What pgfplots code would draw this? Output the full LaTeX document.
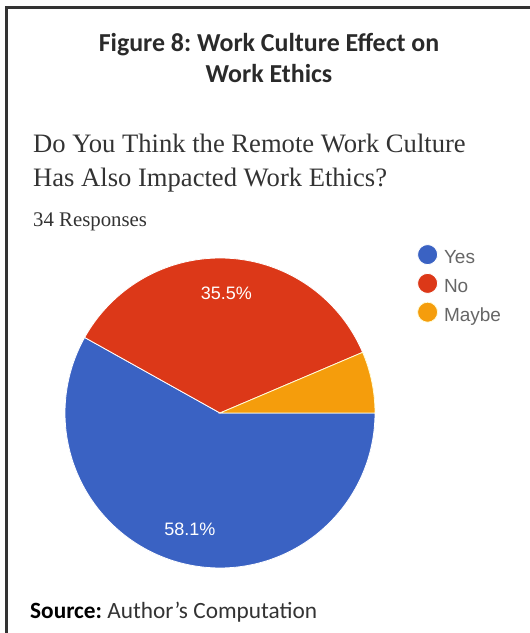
\documentclass[border=0pt]{standalone}
\usepackage{pgfplots}
\pgfplotsset{compat=1.18}
\usepackage{fontspec}
\setmainfont{Liberation Serif}
\newfontfamily\carlito{Carlito}
\newfontfamily\arial{Liberation Sans}
\definecolor{pieblue}{HTML}{3A62C3}
\definecolor{piered}{HTML}{DC3818}
\definecolor{pieorange}{HTML}{F59D0C}
\definecolor{framegray}{HTML}{333333}
\definecolor{titlegray}{HTML}{2A2A2A}
\definecolor{textgray}{HTML}{333333}
\definecolor{legendgray}{HTML}{666666}
% data (percent of 34 responses)
\def\vYes{58.1}
\def\vNo{35.5}
\def\vMaybe{6.4}
\pgfmathsetmacro\aA{-3.6*\vYes}
\pgfmathsetmacro\aB{\aA-3.6*\vNo}
\pgfmathsetmacro\aC{\aB-3.6*\vMaybe}
\pgfmathsetmacro\mA{\aA/2}
\pgfmathsetmacro\mB{(\aA+\aB)/2}
\frenchspacing
\begin{document}
\frenchspacing
\begin{tikzpicture}
\useasboundingbox (0,0) rectangle (530bp,633bp);
\begin{axis}[
  at={(0,0)}, anchor=south west,
  scale only axis, width=530bp, height=633bp,
  xmin=0, xmax=530, ymin=0, ymax=633,
  hide axis, clip=false,
  legend image code/.code={\fill[#1] (10bp,3bp) circle (10bp);},
  legend style={at={(axis cs:417,389)}, anchor=north west,
    draw=none, fill=none, inner sep=0pt, row sep=8bp,
    font=\arial\fontsize{19bp}{19bp}\selectfont, text=legendgray,
    nodes={inner sep=0pt},
    /tikz/every odd column/.append style={column sep=6bp}},
  legend cell align=left,
]
% frame
\draw[framegray, line width=2.5bp] (axis cs:6.5,0) -- (axis cs:6.5,625.7) -- (axis cs:530,625.7);
% pie
\addplot[fill=pieblue, draw=white, line width=0.8bp, domain=\aA:0, samples=150, variable=\t]
  ({220+155*cos(\t)},{220+155*sin(\t)}) -- (axis cs:220,220) -- cycle;
\addlegendentry{Yes}
\addplot[fill=piered, draw=white, line width=0.8bp, domain=\aB:\aA, samples=100, variable=\t]
  ({220+155*cos(\t)},{220+155*sin(\t)}) -- (axis cs:220,220) -- cycle;
\addlegendentry{No}
\addplot[fill=pieorange, draw=white!85!yellow, line width=0.8bp, domain=\aC:\aB, samples=30, variable=\t]
  ({220+155*cos(\t)},{220+155*sin(\t)}) -- (axis cs:220,220) -- cycle;
\addlegendentry{Maybe}
% slice labels
\node[white, font=\arial\fontsize{18bp}{18bp}\selectfont] at (axis cs:{220+120*cos(\mB)},{220+120*sin(\mB)}) {35.5\%};
\node[white, font=\arial\fontsize{18bp}{18bp}\selectfont] at (axis cs:{220+120*cos(\mA)},{220+120*sin(\mA)}) {58.1\%};
% texts
\node[anchor=base, inner sep=0pt, text=titlegray, font=\carlito\bfseries\fontsize{25.9bp}{31bp}\selectfont] at (axis cs:269,581) {Figure 8: Work Culture Effect on};
\node[anchor=base, inner sep=0pt, text=titlegray, font=\carlito\bfseries\fontsize{25.9bp}{31bp}\selectfont] at (axis cs:269,550) {Work Ethics};
\node[anchor=base west, inner sep=0pt, text=textgray, font=\fontsize{26.6bp}{32bp}\selectfont] at (axis cs:33,480) {Do You Think the Remote Work Culture};
\node[anchor=base west, inner sep=0pt, text=textgray, font=\fontsize{26.6bp}{32bp}\selectfont] at (axis cs:33,446) {Has Also Impacted Work Ethics?};
\node[anchor=base west, inner sep=0pt, text=textgray, font=\fontsize{20.8bp}{25bp}\selectfont] at (axis cs:33,406) {34 Responses};
\node[anchor=base west, inner sep=0pt, text=textgray, font=\carlito\fontsize{23.3bp}{28bp}\selectfont] at (axis cs:30,15) {\textcolor{black}{\bfseries Source:} Author’s Computation};
\end{axis}
\end{tikzpicture}
\end{document}
